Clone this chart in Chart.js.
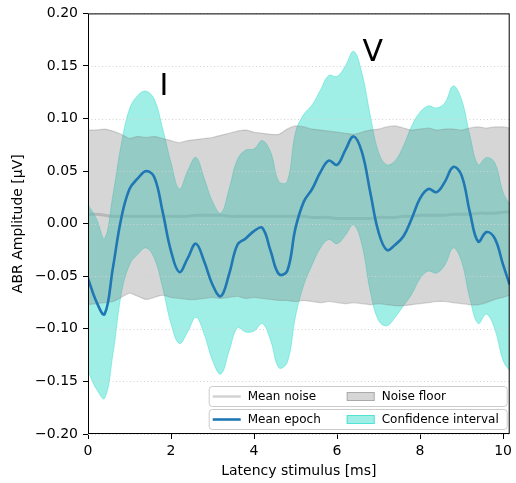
<!DOCTYPE html>
<html>
<head>
<meta charset="utf-8">
<script src="https://cdn.jsdelivr.net/npm/chart.js@4.4.1/dist/chart.umd.min.js"></script>
<style>
  html, body { margin: 0; padding: 0; background: #fff; }
</style>
</head>
<body>
<canvas id="myChart" width="516" height="483"></canvas>
<script>
// latency in ms
let times = [0, 0.2, 0.4, 0.6, 0.8, 1.0, 1.2, 1.4, 1.6, 1.8, 2.0, 2.2, 2.4, 2.6, 2.8, 3.0, 3.2, 3.4, 3.6, 3.8,
  4.0, 4.2, 4.4, 4.6, 4.8, 5.0, 5.2, 5.4, 5.6, 5.8, 6.0, 6.2, 6.4, 6.6, 6.8, 7.0, 7.2, 7.4, 7.6, 7.8,
  8.0, 8.2, 8.4, 8.6, 8.8, 9.0, 9.2, 9.4, 9.6, 9.8, 10.0, 10.16];

let meanEpoch = [-0.052, -0.074, -0.086, -0.042, 0.005, 0.033, 0.043, 0.050, 0.044, 0.011, -0.026, -0.046, -0.033, -0.019, -0.036, -0.058, -0.069, -0.048, -0.020, -0.014,
  -0.007, -0.004, -0.026, -0.048, -0.045, -0.004, 0.021, 0.033, 0.049, 0.060, 0.056, 0.070, 0.083, 0.068, 0.030, -0.008, -0.025, -0.020, -0.012, 0.005,
  0.024, 0.033, 0.030, 0.040, 0.054, 0.046, 0.011, -0.017, -0.008, -0.014, -0.039, -0.058];

let ciUpper = [0.018, 0.005, -0.014, 0.027, 0.075, 0.109, 0.122, 0.126, 0.118, 0.090, 0.058, 0.033, 0.050, 0.063, 0.043, 0.021, 0.010, 0.033, 0.061, 0.070,
  0.071, 0.079, 0.068, 0.040, 0.040, 0.087, 0.104, 0.113, 0.127, 0.141, 0.140, 0.150, 0.164, 0.143, 0.103, 0.068, 0.056, 0.060, 0.074, 0.093,
  0.106, 0.112, 0.110, 0.115, 0.131, 0.118, 0.084, 0.056, 0.063, 0.058, 0.030, 0.018];

let ciLower = [-0.140, -0.157, -0.166, -0.124, -0.067, -0.039, -0.029, -0.023, -0.033, -0.061, -0.095, -0.114, -0.103, -0.089, -0.105, -0.130, -0.143, -0.121, -0.099, -0.103,
  -0.102, -0.095, -0.111, -0.137, -0.132, -0.088, -0.058, -0.039, -0.023, -0.015, -0.019, -0.011, -0.001, -0.020, -0.064, -0.092, -0.097, -0.089, -0.078, -0.067,
  -0.052, -0.045, -0.047, -0.039, -0.023, -0.036, -0.071, -0.095, -0.086, -0.100, -0.130, -0.140];

let noiseUpper = [0.089, 0.089, 0.090, 0.088, 0.085, 0.081, 0.083, 0.082, 0.083, 0.081, 0.079, 0.077, 0.079, 0.080, 0.081, 0.082, 0.084, 0.086, 0.088, 0.089,
  0.087, 0.086, 0.085, 0.085, 0.090, 0.093, 0.092, 0.090, 0.089, 0.088, 0.087, 0.086, 0.085, 0.087, 0.089, 0.090, 0.092, 0.093, 0.091, 0.089,
  0.090, 0.091, 0.089, 0.090, 0.090, 0.089, 0.091, 0.092, 0.091, 0.092, 0.092, 0.091];

let noiseLower = [-0.077, -0.076, -0.075, -0.074, -0.070, -0.066, -0.069, -0.072, -0.070, -0.068, -0.070, -0.071, -0.072, -0.072, -0.071, -0.070, -0.071, -0.070, -0.069, -0.071,
  -0.070, -0.071, -0.072, -0.073, -0.073, -0.074, -0.073, -0.074, -0.075, -0.074, -0.075, -0.076, -0.075, -0.076, -0.077, -0.076, -0.077, -0.078, -0.078, -0.077,
  -0.076, -0.075, -0.074, -0.074, -0.075, -0.076, -0.077, -0.077, -0.075, -0.072, -0.070, -0.068];

let meanNoise = [0.009, 0.009, 0.008, 0.007, 0.007, 0.007, 0.007, 0.007, 0.007, 0.007, 0.007, 0.007, 0.007, 0.008, 0.008, 0.008, 0.008, 0.007, 0.007, 0.007,
  0.007, 0.007, 0.007, 0.007, 0.007, 0.007, 0.007, 0.006, 0.006, 0.006, 0.005, 0.005, 0.005, 0.005, 0.005, 0.006, 0.006, 0.006, 0.007, 0.007,
  0.008, 0.008, 0.008, 0.008, 0.009, 0.009, 0.009, 0.010, 0.010, 0.010, 0.011, 0.011];

let yTicks = [-0.20, -0.15, -0.10, -0.05, 0.00, 0.05, 0.10, 0.15, 0.20];
let xTicks = [0, 2, 4, 6, 8, 10];

// wave labels
let waveLabels = ["I", "V"];
let waveX = [1.83, 6.86];
let waveY = [0.122, 0.155];

const FONT = "'DejaVu Sans', sans-serif";
const BLUE = "#1f77b4";
const NOISE_LINE = "#d3d3d3";
const GRAY_FILL = "rgba(128,128,128,0.32)";
const TURQ_FILL = "rgba(64,224,208,0.5)";

function toPoints(ys) {
  return times.map((t, i) => ({ x: t, y: ys[i] }));
}

function fmtY(v) {
  if (Math.abs(v) < 1e-9) return "0.00";
  return (v < 0 ? "\u2212" : "") + Math.abs(v).toFixed(2);
}

function legendBox(ctx, x, y, w, h) {
  ctx.beginPath();
  ctx.roundRect(x, y, w, h, 3);
  ctx.fillStyle = "rgba(255,255,255,0.8)";
  ctx.fill();
  ctx.strokeStyle = "#cccccc";
  ctx.lineWidth = 1;
  ctx.stroke();
}

const extras = {
  id: "extras",
  beforeDatasetDraw(chart, args) {
    // dotted horizontal grid: over the fills, under the mean epoch line
    if (args.index !== 0) return;
    const ctx = chart.ctx;
    const a = chart.chartArea;
    const ys = chart.scales.y;
    ctx.save();
    ctx.strokeStyle = "#d2d2d2";
    ctx.lineWidth = 1;
    ctx.setLineDash([1, 2.5]);
    yTicks.forEach(v => {
      const py = Math.round(ys.getPixelForValue(v)) + 0.5;
      ctx.beginPath();
      ctx.moveTo(a.left, py);
      ctx.lineTo(a.right, py);
      ctx.stroke();
    });
    ctx.restore();
  },
  afterDatasetsDraw(chart) {
    const ctx = chart.ctx;
    const xs = chart.scales.x, ys = chart.scales.y;
    ctx.save();
    ctx.fillStyle = "#000";
    ctx.font = "30px " + FONT;
    ctx.textAlign = "center";
    ctx.textBaseline = "alphabetic";
    for (let i = 0; i < waveLabels.length; i++) {
      ctx.fillText(waveLabels[i], xs.getPixelForValue(waveX[i]), ys.getPixelForValue(waveY[i]));
    }
    ctx.restore();
  },
  afterDraw(chart) {
    const ctx = chart.ctx;
    const a = chart.chartArea;
    const ds = chart.data.datasets;
    ctx.save();
    // frame
    ctx.strokeStyle = "#000";
    ctx.lineWidth = 1;
    ctx.strokeRect(a.left + 0.5, a.top + 0.5, a.right - a.left - 1, a.bottom - a.top - 1);

    // two legend boxes, bottom right
    const bx = a.right - 301, bw = 298;
    const rows = [
      [{ type: "line", color: NOISE_LINE, label: ds[5].label }, { type: "patch", fill: GRAY_FILL, edge: "rgba(128,128,128,0.5)", label: ds[1].label }],
      [{ type: "line", color: BLUE, label: ds[0].label }, { type: "patch", fill: TURQ_FILL, edge: "rgba(64,224,208,0.8)", label: ds[3].label }]
    ];
    const tops = [a.bottom - 48, a.bottom - 25];
    ctx.font = "12px " + FONT;
    ctx.textBaseline = "middle";
    ctx.textAlign = "left";
    rows.forEach((row, r) => {
      legendBox(ctx, bx + 0.5, tops[r] + 0.5, bw, 20);
      const cy = tops[r] + 10.5;
      row.forEach((item, c) => {
        const hx = bx + 4 + c * 134;
        if (item.type === "line") {
          ctx.beginPath();
          ctx.moveTo(hx, cy);
          ctx.lineTo(hx + 28, cy);
          ctx.strokeStyle = item.color;
          ctx.lineWidth = item.color === BLUE ? 2.6 : 2.5;
          ctx.stroke();
        } else {
          ctx.fillStyle = item.fill;
          ctx.fillRect(hx, cy - 4.5, 28, 9);
          ctx.strokeStyle = item.edge;
          ctx.lineWidth = 1;
          ctx.strokeRect(hx + 0.5, cy - 4, 27, 8);
        }
        ctx.fillStyle = "#000";
        ctx.fillText(item.label, hx + 35, cy + 0.5);
      });
    });
    ctx.restore();
  }
};

new Chart("myChart", {
  type: "line",
  data: {
    datasets: [
      { label: "Mean epoch", data: toPoints(meanEpoch), borderColor: BLUE, borderWidth: 2.6, fill: false },
      { label: "Noise floor", data: toPoints(noiseUpper), borderColor: GRAY_FILL, borderWidth: 1.2, backgroundColor: GRAY_FILL, fill: "+1", tension: 0.2 },
      { label: "noise lower", data: toPoints(noiseLower), borderColor: GRAY_FILL, borderWidth: 1.2, fill: false, tension: 0.2 },
      { label: "Confidence interval", data: toPoints(ciUpper), borderColor: TURQ_FILL, borderWidth: 1, backgroundColor: TURQ_FILL, fill: "+1" },
      { label: "ci lower", data: toPoints(ciLower), borderColor: TURQ_FILL, borderWidth: 1, fill: false },
      { label: "Mean noise", data: toPoints(meanNoise), borderColor: NOISE_LINE, borderWidth: 3, fill: false }
    ]
  },
  options: {
    responsive: false,
    animation: false,
    devicePixelRatio: 1,
    layout: { padding: { top: 10, right: 2, left: 0, bottom: 0 } },
    elements: {
      point: { radius: 0 },
      line: { tension: 0.4 }
    },
    plugins: {
      legend: { display: false },
      tooltip: { enabled: false }
    },
    scales: {
      x: {
        type: "linear",
        min: 0,
        max: 10.16,
        afterFit: s => { s.height = 49; },
        afterBuildTicks: s => { s.ticks = xTicks.map(v => ({ value: v })); },
        ticks: { font: { family: FONT, size: 14 }, color: "#000", padding: 4, maxRotation: 0, includeBounds: false },
        grid: { drawOnChartArea: false, drawTicks: true, tickLength: 5, tickColor: "#000", tickWidth: 1 },
        border: { display: false },
        title: { display: true, text: "Latency stimulus [ms]", font: { family: FONT, size: 14 }, color: "#000", padding: { top: 2, bottom: 3 } }
      },
      y: {
        min: -0.2,
        max: 0.2,
        afterFit: s => { s.width = 88; },
        afterBuildTicks: s => { s.ticks = yTicks.map(v => ({ value: v })); },
        ticks: { font: { family: FONT, size: 14 }, color: "#000", padding: 5, callback: v => fmtY(v) },
        grid: { drawOnChartArea: false, drawTicks: true, tickLength: 5, tickColor: "#000", tickWidth: 1 },
        border: { display: false },
        title: { display: true, text: "ABR Amplitude [µV]", font: { family: FONT, size: 14 }, color: "#000", padding: { top: 10, bottom: 0 } }
      }
    }
  },
  plugins: [extras]
});
</script>
</body>
</html>
